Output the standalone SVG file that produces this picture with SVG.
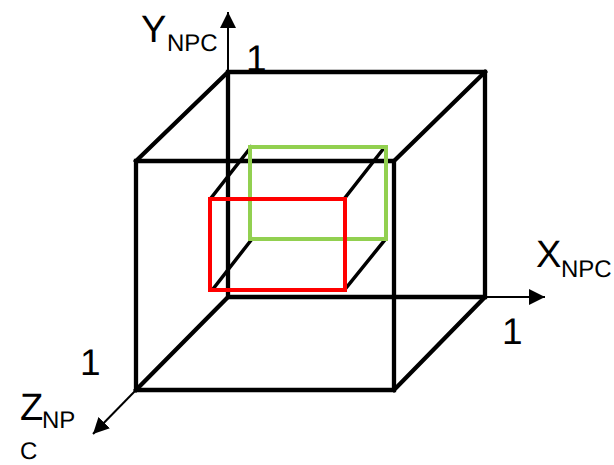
<svg xmlns="http://www.w3.org/2000/svg" width="614" height="465" viewBox="0 0 614 465">
<style>
.e{fill:none;stroke:#000;stroke-width:4.300;stroke-linecap:square}
.a{fill:none;stroke:#000;stroke-width:2}
text{font-family:"Liberation Sans",Arial,sans-serif;fill:#000;text-rendering:geometricPrecision}
.b{font-size:38px}
.s{font-size:24px}
.o{font-size:37px}
</style>
<defs>
<marker id="h" markerUnits="userSpaceOnUse" markerWidth="17" markerHeight="17" refX="16" refY="8" orient="auto"><path d="M0 0L16 8L0 16Z" fill="#000"/></marker>
</defs>
<rect width="614" height="465" fill="#fff"/>
<g id="connectors">
<line class="a" x1="228" y1="72" x2="228" y2="12" marker-end="url(#h)"/>
<line class="a" x1="485" y1="297" x2="545" y2="297" marker-end="url(#h)"/>
<line class="a" x1="136" y1="390" x2="93" y2="434" marker-end="url(#h)"/>
</g>
<g id="cube">
<path class="e" d="M228 72H485V297H228Z"/>
<path class="e" d="M136 161H394V390H136Z"/>
<path class="e" d="M136 161L228 72M394 161L485 72M394 390L485 297M136 390L228 297"/>
</g>
<g id="inner-edges">
<path class="e" style="stroke-width:3.500" d="M211 198L251 147M344 199L384 148M213 289L252 239M346 288L384 241"/>
</g>
<g id="green-rect"><rect x="250" y="147" width="136" height="92" fill="none" stroke="#92d050" stroke-width="4"/></g>
<g id="red-rect"><rect x="210" y="199" width="135" height="91" fill="none" stroke="#f00" stroke-width="4"/></g>
<g id="label-y"><text class="b" x="141" y="42">Y</text><text class="s" x="167" y="51">NPC</text></g>
<g id="label-x"><text class="b" x="536" y="267">X</text><text class="s" x="561" y="277">NPC</text></g>
<g id="label-z"><text class="b" x="20" y="420">Z</text><text class="s" x="42" y="428">NP</text><text class="s" x="20" y="459">C</text></g>
<g id="label-1-top"><text class="o" x="246" y="71">1</text></g>
<g id="label-1-right"><text class="o" x="502" y="344">1</text></g>
<g id="label-1-left"><text class="o" x="80" y="375">1</text></g>
</svg>
